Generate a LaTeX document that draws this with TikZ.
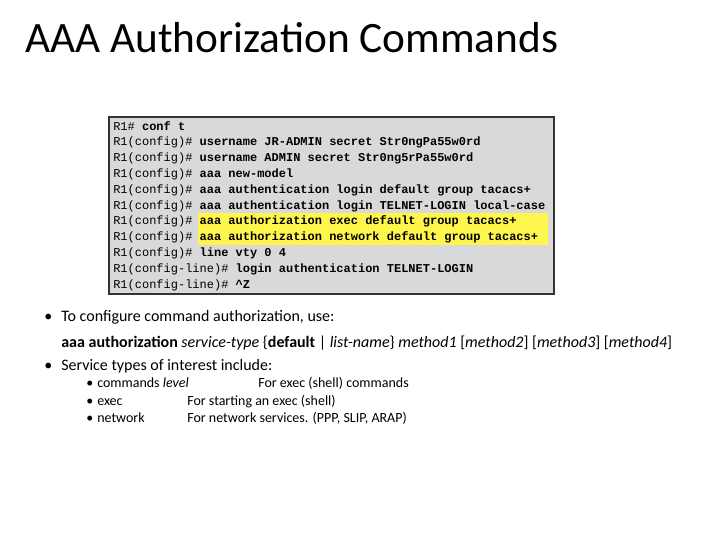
\documentclass[tikz,border=0pt]{standalone}
\usepackage{fontspec}
\setmainfont{Carlito}
\newfontfamily\codefont{Liberation Mono}
\begin{document}
\begin{tikzpicture}[x=0.75pt,y=-0.75pt,
  codeln/.style={anchor=base west,inner sep=0pt,font=\codefont\fontsize{9}{10}\selectfont},
  txt/.style={anchor=base west,inner sep=0pt,font=\fontsize{12}{14}\selectfont},
  sub/.style={anchor=base west,inner sep=0pt,font=\fontsize{10.5}{12}\selectfont}]
\useasboundingbox (0,0) rectangle (720,540);
\node[anchor=base west,inner sep=0pt,font=\fontsize{32.5}{36}\selectfont] (title) at (25,52) {AAA Authorization Commands};
\draw[line width=2.2pt,draw=black!80,fill=black!15] (109,117) rectangle (554,294);
\fill[yellow!70] (198,213) rectangle (548,245);
\foreach \i/\p/\c in {0/R1\#/conf t,
 1/R1(config)\#/username JR-ADMIN secret Str0ngPa55w0rd,
 2/R1(config)\#/username ADMIN secret Str0ng5rPa55w0rd,
 3/R1(config)\#/aaa new-model,
 4/R1(config)\#/aaa authentication login default group tacacs+,
 5/R1(config)\#/aaa authentication login TELNET-LOGIN local-case,
 6/R1(config)\#/aaa authorization exec default group tacacs+,
 7/R1(config)\#/aaa authorization network default group tacacs+,
 8/R1(config)\#/line vty 0 4,
 9/R1(config-line)\#/login authentication TELNET-LOGIN,
 10/R1(config-line)\#/\textasciicircum Z}
 \node[codeln] (l\i) at (113,130+15.8*\i) {\p{} \textbf{\c}};
\node[txt] (b1) at (44,321) {•};
\node[txt] (t1) at (61,321) {To configure command authorization, use:};
\node[txt] (t2) at (61,347) {\textbf{aaa authorization} \textit{service-type} \{\textbf{default} | \textit{list-name}\} \textit{method1} [\textit{method2}] [\textit{method3}] [\textit{method4}]};
\node[txt] (b3) at (44,370) {•};
\node[txt] (t3) at (61,370) {Service types of interest include:};
\node[sub] (s1) at (86,387) {•}; \node[sub] (s1a) at (97,387) {commands \textit{level}}; \node[sub] (s1b) at (258,387) {For exec (shell) commands};
\node[sub] (s2) at (86,405) {•}; \node[sub] (s2a) at (97,405) {exec}; \node[sub] (s2b) at (187,405) {For starting an exec (shell)};
\node[sub] (s3) at (86,422) {•}; \node[sub] (s3a) at (97,422) {network}; \node[sub] (s3b) at (187,422) {For network services. (PPP, SLIP, ARAP)};
\end{tikzpicture}
\end{document}
